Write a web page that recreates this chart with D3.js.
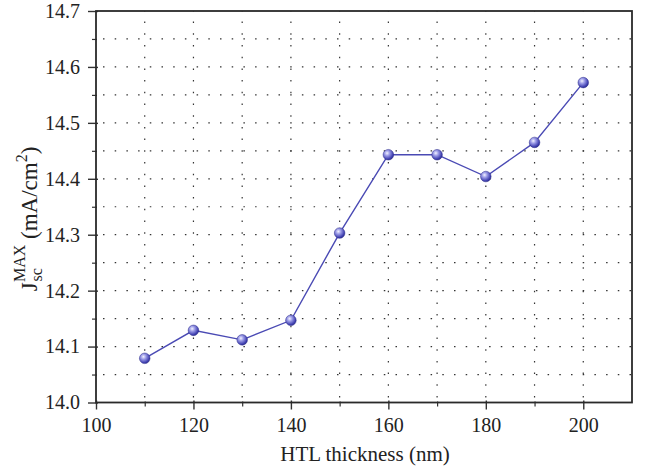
<!DOCTYPE html>
<html>
<head>
<meta charset="utf-8">
<script src="https://cdn.jsdelivr.net/npm/d3@7"></script>
<style>
  html, body { margin: 0; padding: 0; background: #fff; }
  svg { display: block; }
  svg text { font-family: "Liberation Serif", "Times New Roman", Times, "DejaVu Serif", "Noto Serif", serif; fill: #222; }
</style>
</head>
<body>
<svg id="chart" width="648" height="470"></svg>
<script>
// Data
const thickness = [110, 120, 130, 140, 150, 160, 170, 180, 190, 200];
const jsc = [14.079, 14.129, 14.112, 14.147, 14.303, 14.443, 14.443, 14.404, 14.465, 14.572];
const xTicks = [100, 120, 140, 160, 180, 200];
const xMinor = [110, 130, 150, 170, 190];
const yTicks = [14.0, 14.1, 14.2, 14.3, 14.4, 14.5, 14.6, 14.7];
const yMinor = [14.05, 14.15, 14.25, 14.35, 14.45, 14.55, 14.65];
const xGrid = [110, 120, 130, 140, 150, 160, 170, 180, 190, 200];
const yGrid = [14.05, 14.1, 14.15, 14.2, 14.25, 14.3, 14.35, 14.4, 14.45, 14.5, 14.55, 14.6, 14.65];

const margin = { left: 96, right: 16, top: 11, bottom: 67.5 };
const W = 648, H = 470;
const svg = d3.select("#chart");
const FONT = '"Liberation Serif", "Times New Roman", Times, "DejaVu Serif", serif';

const x = d3.scaleLinear().domain([100, 210]).range([margin.left, W - margin.right]);
const y = d3.scaleLinear().domain([14.0, 14.7]).range([H - margin.bottom, margin.top]);

const defs = svg.append("defs");
const grad = defs.append("radialGradient").attr("id", "ball")
  .attr("cx", "0.38").attr("cy", "0.35").attr("r", "0.7");
grad.append("stop").attr("offset", "0").attr("stop-color", "#f2f2ff");
grad.append("stop").attr("offset", "0.35").attr("stop-color", "#9a9ae6");
grad.append("stop").attr("offset", "0.8").attr("stop-color", "#4040b0");
grad.append("stop").attr("offset", "1").attr("stop-color", "#2a2a88");

// Grid
const gridG = svg.append("g").attr("stroke", "#333").attr("stroke-width", 1.2)
  .attr("stroke-dasharray", "1.5 10.2");
gridG.selectAll("line.vg").data(xGrid).join("line").attr("class", "vg")
  .attr("x1", d => x(d)).attr("x2", d => x(d))
  .attr("y1", y(14.0)).attr("y2", y(14.7))
  .attr("stroke-dashoffset", -5);
gridG.selectAll("line.hg").data(yGrid).join("line").attr("class", "hg")
  .attr("x1", x(100)).attr("x2", x(210))
  .attr("y1", d => y(d)).attr("y2", d => y(d))
  .attr("stroke-dashoffset", -7);

// Axes
const xAxis = d3.axisBottom(x).tickValues(xTicks).tickSize(7).tickSizeOuter(0).tickPadding(8);
const gx = svg.append("g").attr("transform", `translate(0,${y(14.0)})`).call(xAxis)
  .attr("font-family", FONT);
gx.select(".domain").remove();
gx.selectAll(".tick line").attr("stroke", "#333").attr("stroke-width", 1.4).attr("y1", -2);
gx.selectAll(".tick text").attr("font-size", 20).style("font-family", FONT).attr("fill", "#222");
const gxm = svg.append("g").attr("transform", `translate(0,${y(14.0)})`)
  .call(d3.axisBottom(x).tickValues(xMinor).tickSize(4).tickFormat(""));
gxm.select(".domain").remove();
gxm.selectAll(".tick line").attr("stroke", "#333").attr("stroke-width", 1.2).attr("y1", -1);

const yAxis = d3.axisLeft(y).tickValues(yTicks).tickSize(8).tickSizeOuter(0).tickPadding(8)
  .tickFormat(d3.format(".1f"));
const gy = svg.append("g").attr("transform", `translate(${x(100)},0)`).call(yAxis)
  .attr("font-family", FONT);
gy.select(".domain").remove();
gy.selectAll(".tick line").attr("stroke", "#333").attr("stroke-width", 1.4).attr("x1", 2);
gy.selectAll(".tick text").attr("font-size", 20).style("font-family", FONT).attr("fill", "#222");
const gym = svg.append("g").attr("transform", `translate(${x(100)},0)`)
  .call(d3.axisLeft(y).tickValues(yMinor).tickSize(4).tickFormat(""));
gym.select(".domain").remove();
gym.selectAll(".tick line").attr("stroke", "#333").attr("stroke-width", 1.2).attr("x1", 1);

// Frame
svg.append("rect")
  .attr("x", x(100)).attr("y", y(14.7))
  .attr("width", x(210) - x(100)).attr("height", y(14.0) - y(14.7))
  .attr("fill", "none").attr("stroke", "#2a2a2a").attr("stroke-width", 1.8);

// Line
const line = d3.line().x((d, i) => x(thickness[i])).y(d => y(d));
svg.append("path").datum(jsc).attr("d", line)
  .attr("fill", "none").attr("stroke", "#4a4ab4").attr("stroke-width", 1.4);

// Markers
svg.selectAll("circle.pt").data(jsc).join("circle").attr("class", "pt")
  .attr("cx", (d, i) => x(thickness[i])).attr("cy", d => y(d))
  .attr("r", 5.3).attr("fill", "url(#ball)")
  .attr("stroke", "#2c2c8a").attr("stroke-width", 0.5);

// Axis titles
svg.append("text").attr("x", (x(100) + x(210)) / 2 + 1).attr("y", 461)
  .attr("text-anchor", "middle").attr("font-size", 21).style("font-family", FONT)
  .text("HTL thickness (nm)");

const yl = svg.append("text")
  .attr("transform", `translate(37,219) rotate(-90)`)
  .attr("text-anchor", "middle").attr("font-size", 23).style("font-family", FONT);
yl.append("tspan").text("J");
yl.append("tspan").attr("font-size", 16).attr("dx", 1).attr("dy", 5).text("sc");
yl.append("tspan").attr("font-size", 16).attr("dx", -14).attr("dy", -17).text("MAX");
yl.append("tspan").attr("dy", 12).text(" (mA/cm");
yl.append("tspan").attr("font-size", 16).attr("dy", -10).text("2");
yl.append("tspan").attr("dy", 10).text(")");
</script>
</body>
</html>
